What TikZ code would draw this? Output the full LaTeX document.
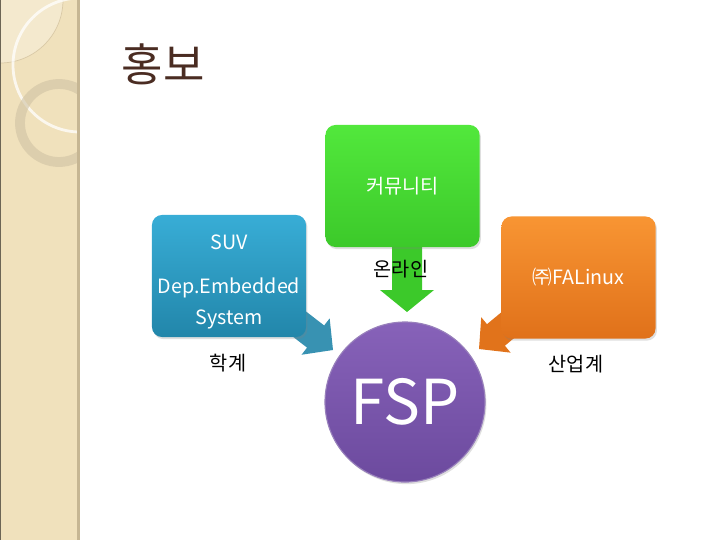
\documentclass[tikz,border=0pt]{standalone}
\usepackage{fontspec}
\setmainfont{Noto Sans CJK KR}
\usetikzlibrary{shadows}
\definecolor{stripfill}{HTML}{F0E1BC}
\definecolor{striplight}{HTML}{F4E9CE}
\definecolor{stripline}{HTML}{D9C9A6}
\definecolor{stripedge}{HTML}{C6B693}
\definecolor{ringcol}{HTML}{CFC2A3}
\definecolor{titlecol}{HTML}{4A2C22}
\definecolor{bluetop}{HTML}{38ADD6}
\definecolor{bluebot}{HTML}{2286AA}
\definecolor{greentop}{HTML}{52E83C}
\definecolor{greenbot}{HTML}{3CC92A}
\definecolor{orangetop}{HTML}{F89533}
\definecolor{orangebot}{HTML}{E0711A}
\definecolor{purpletop}{HTML}{8762B9}
\definecolor{purplebot}{HTML}{6C4A9E}

\begin{document}
\begin{tikzpicture}[x=0.025cm,y=-0.025cm,
    every node/.style={font=\fontsize{14pt}{17pt}\selectfont},
    box/.style={rounded corners=0.25cm,minimum width=3.85cm,minimum height=3.05cm,
      text=white,align=center,drop shadow={shadow xshift=1pt,shadow yshift=-1.5pt,opacity=0.25}}]
  \useasboundingbox (0,0) rectangle (720,540);
  % side strip
  \begin{scope}
    \clip (0,0) rectangle (78,540);
    \fill[stripfill] (0,0) rectangle (78,540);
    \fill[striplight,draw=stripline,line width=0.5pt] (0,0) circle (63);
    \draw[white,opacity=0.75,line width=2pt] (80,65) circle (67);
    \draw[ringcol,opacity=0.6,line width=7pt] (59,123) circle (39);
  \end{scope}
  \draw[stripedge,line width=1.5pt] (78.5,0) -- (78.5,540);
  \draw[black!55!stripfill,line width=0.8pt] (0.4,0) -- (0.4,540);
  % title
  \node[font=\fontsize{32pt}{36pt}\selectfont,text=titlecol] (title) at (163,64) {홍보};
  % arrow tips
  \coordinate (tipsuv) at (333,350);
  \coordinate (tipcom) at (407,312);
  \coordinate (tipfa) at (479,349);
  % arrows
  \fill[bluebot!90!white,shift={(tipsuv)},rotate=-37.7]
    (0,0) -- (-22,23) -- (-22,14) -- (-62,14) -- (-62,-14) -- (-22,-14) -- (-22,-23) -- cycle;
  \fill[greenbot,shift={(tipcom)},rotate=-90]
    (0,0) -- (-22,27) -- (-22,15) -- (-72,15) -- (-72,-15) -- (-22,-15) -- (-22,-27) -- cycle;
  \fill[orangebot!95!orangetop,shift={(tipfa)},rotate=-140.3]
    (0,0) -- (-22,23) -- (-22,14) -- (-62,14) -- (-62,-14) -- (-22,-14) -- (-22,-23) -- cycle;
  % boxes
  \node[box,top color=bluetop,bottom color=bluebot,
    label={[text=white,align=center,yshift=-4.3pt,font=\fontsize{14pt}{22pt}\selectfont]center:{SUV\\[9pt]Dep.Embedded\\System}}]
    (suv) at (229,276) {};
  \node[box,top color=greentop,bottom color=greenbot] (com) at (402.5,186) {커뮤니티};
  \node[box,top color=orangetop,bottom color=orangebot] (fa) at (578.5,277.5) {㈜FALinux};
  % centre
  \node[circle,minimum size=4cm,inner sep=0pt,top color=purpletop,bottom color=purplebot,
    draw=white!30!purplebot,line width=0.8pt,text=white,font=\fontsize{44pt}{48pt}\selectfont,
    drop shadow={shadow xshift=1pt,shadow yshift=-1.5pt,opacity=0.25}] (fsp) at (405,402) {FSP};
  % labels
  \node (lsuv) at (228,363) {학계};
  \node (lcom) at (401,269) {온라인};
  \node (lfa) at (576,364) {산업계};
\end{tikzpicture}
\end{document}
